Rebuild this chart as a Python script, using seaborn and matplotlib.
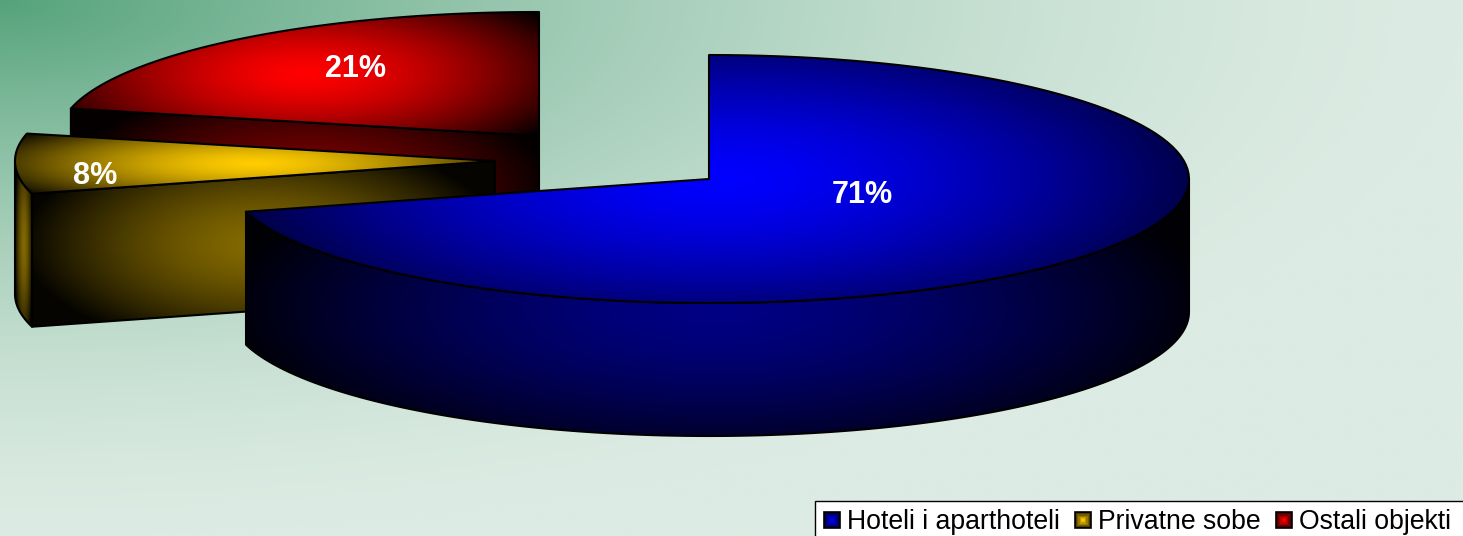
"""Exploded 3D style pie: accommodation share by type"""
import numpy as np
import seaborn as sns
import matplotlib.pyplot as plt
from matplotlib.patches import Patch, Polygon, Rectangle
from matplotlib.legend_handler import HandlerBase

categories = ['Hoteli i aparthoteli', 'Privatne sobe', 'Ostali objekti']
shares = [70.75, 7.8, 21.45]
pct_labels = ['71%', '8%', '21%']

W, H = 1463, 536
RX, RY, DEPTH = 480, 124, 133
CENTERS = [(709, 179), (495, 161), (539, 136)]
LABEL_POS = [(862, 195), (95, 176), (355, 69)]
BG_START, BG_END = np.array([0x55, 0xa3, 0x7b]), np.array([0xdc, 0xeb, 0xe3])

sns.set_theme(style='white')
plt.rcParams['font.family'] = ['Liberation Sans', 'DejaVu Sans']
palette = sns.color_palette(['#0000ff', '#ffcc00', '#ff0000'])


def arc(center, a0, a1, drop=0, n=120):
    th = np.radians(np.linspace(a0, a1, n))
    return np.column_stack([center[0] + RX * np.sin(th),
                            center[1] - RY * np.cos(th) + drop])


def shade(ax, pts, color, peak=1.0, k=0.72, z=1):
    # center gradient fading to dark, clipped to the face
    x0, y0 = pts.min(axis=0)
    x1, y1 = pts.max(axis=0)
    xx, yy = np.meshgrid(np.linspace(-1, 1, 300), np.linspace(-1, 1, 200))
    t = np.clip(np.hypot(xx, yy * 0.8), 0, 1.3)
    level = np.clip(peak * (1 - k * t ** 1.5), 0.02, 1)
    img = level[..., None] * np.array(color)
    im = ax.imshow(img, extent=(x0, x1, y1, y0), aspect='auto', zorder=z,
                   interpolation='bilinear')
    poly = Polygon(pts, closed=True, facecolor='none', edgecolor='black',
                   linewidth=1.5, joinstyle='round', zorder=z + 0.1)
    ax.add_patch(poly)
    im.set_clip_path(poly)


class GradientBox(HandlerBase):
    def create_artists(self, legend, orig, xd, yd, width, height, fontsize, trans):
        side = 11.5
        c = np.array(orig.get_facecolor()[:3])
        out = []
        levels = [0.1, 0.3, 0.45, 0.6, 0.75, 0.9, 1.0]
        for i, lvl in enumerate(levels):
            s = side * (1 - i / len(levels))
            out.append(Rectangle((width / 2 - s / 2 - xd, height / 2 - s / 2 - yd), s, s,
                                 facecolor=c * lvl,
                                 edgecolor='black' if i == 0 else 'none',
                                 linewidth=1.2, transform=trans))
        return out


fig = plt.figure(figsize=(W / 100, H / 100), dpi=100)
ax = fig.add_axes([0, 0, 1, 1])

# background
xx, yy = np.meshgrid(np.linspace(0, 1, 400), np.linspace(0, 1, 200))
r = np.clip(np.hypot(xx, yy), 0, 1)
f = 1 - (1 - r) ** 1.6
ax.imshow((BG_START + (BG_END - BG_START) * f[..., None]) / 255,
          extent=(0, W, H, 0), aspect='auto', zorder=0)

edges = np.cumsum([0] + shares) / sum(shares) * 360
slices = list(zip(categories, shares, palette, CENTERS, edges[:-1], edges[1:]))

# back to front: red, yellow, blue
for zi, idx in enumerate([2, 1, 0]):
    _, _, color, c, a0, a1 = slices[idx]
    z = 1 + zi * 2
    # cut face on the starting edge if it looks toward the viewer
    if a0 > 180:
        rim = arc(c, a0, a0, n=1)[0]
        cut = np.array([c, rim, rim + [0, DEPTH], np.array(c) + [0, DEPTH]], dtype=float)
        shade(ax, cut, color, peak=0.52, k=0.9, z=z)
    # outer wall, front half of the ellipse only
    lo, hi = max(a0, 90), min(a1, 270)
    if hi > lo:
        top = arc(c, lo, hi)
        wall = np.vstack([top, arc(c, hi, lo, drop=DEPTH)])
        shade(ax, wall, color, peak=0.52, k=0.9, z=z)
    face = np.vstack([[c], arc(c, a0, a1)])
    shade(ax, face, color, peak=1.0, k=0.7, z=z + 0.5)

for txt, (x, y) in zip(pct_labels, LABEL_POS):
    ax.text(x, y, txt, color='white', fontsize=22, fontweight='bold',
            ha='center', va='center', zorder=20)

ax.set_xlim(0, W)
ax.set_ylim(H, 0)
ax.axis('off')

# legend box runs off the right and bottom edge
ax.add_patch(Rectangle((815, 501), 700, 60, facecolor='white', edgecolor='black',
                       linewidth=1.0, zorder=29))
handles = [Patch(facecolor=c) for c in palette]
leg = ax.legend(handles, categories, ncol=3, loc='lower left',
                bbox_to_anchor=(815.5 / W, -4 / H), bbox_transform=fig.transFigure,
                prop={'size': 19.2}, labelcolor='black', frameon=False,
                borderaxespad=0, handlelength=0.9, handleheight=0.62,
                handletextpad=0.12, columnspacing=0.41, borderpad=0.17,
                handler_map={Patch: GradientBox()})
leg.set_zorder(30)

plt.savefig('out.png', dpi=100)
